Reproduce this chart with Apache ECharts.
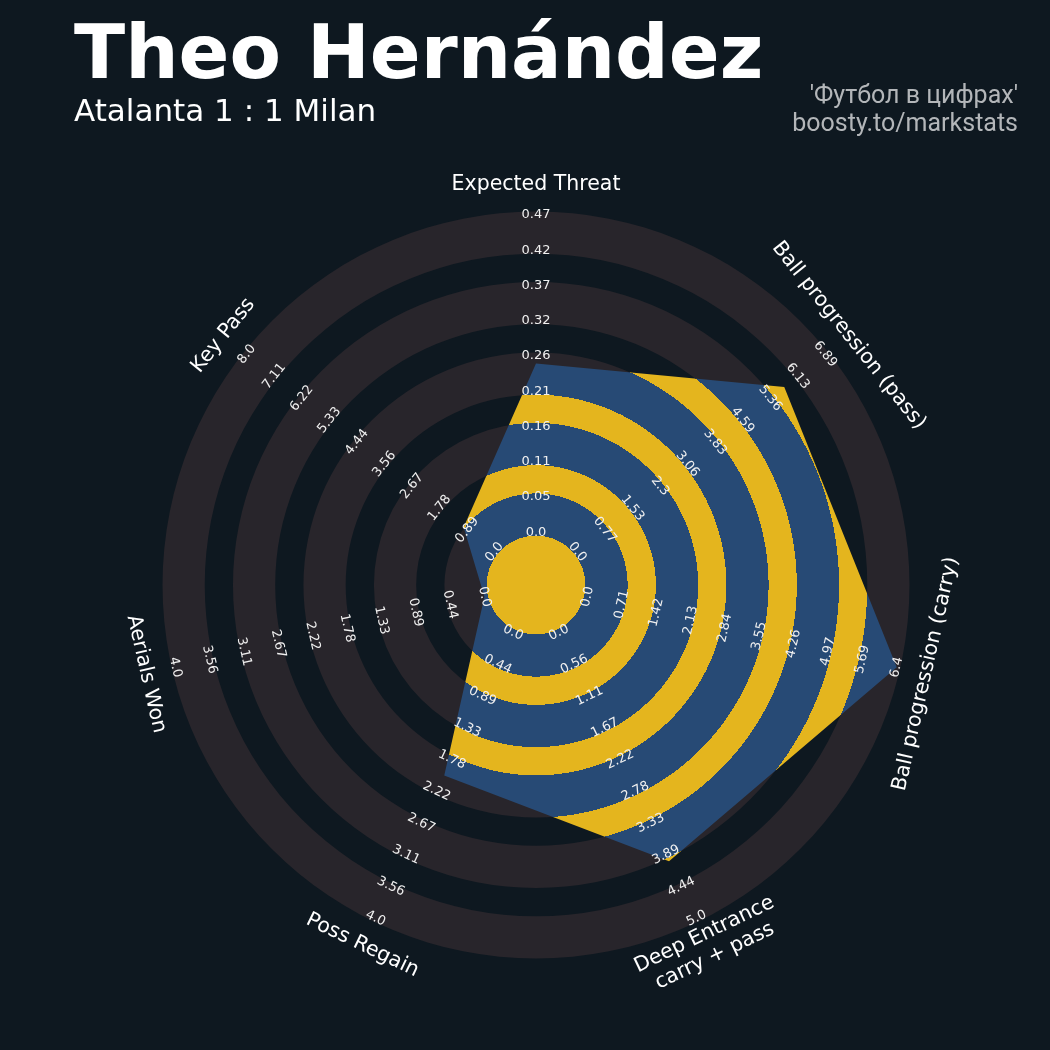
<!DOCTYPE html>
<html><head><meta charset="utf-8">
<script src="https://cdn.jsdelivr.net/npm/echarts@6/dist/echarts.min.js"></script>
<style>html,body{margin:0;padding:0;background:#0e1820;}#c{width:1050px;height:1050px;}</style>
</head><body><div id="c"></div>
<script>
// ---- data ----
const params = ['Expected Threat', 'Ball progression (pass)', 'Ball progression (carry)',
  'Deep Entrance\ncarry + pass', 'Poss Regain', 'Aerials Won', 'Key Pass'];
const minRange = [0, 0, 0, 0, 0, 0, 0];
const maxRange = [0.47, 6.89, 6.4, 5.0, 4.0, 4.0, 8.0];
const values = [0.25, 5.75, 6.4, 4.0, 2.0, 0, 1.0];
const tickXT = ['0.0', '0.05', '0.11', '0.16', '0.21', '0.26', '0.32', '0.37', '0.42', '0.47'];
const tickPass = ['0.0', '0.77', '1.53', '2.3', '3.06', '3.83', '4.59', '5.36', '6.13', '6.89'];
const tickCarry = ['0.0', '0.71', '1.42', '2.13', '2.84', '3.55', '4.26', '4.97', '5.69', '6.4'];
const tickDeep = ['0.0', '0.56', '1.11', '1.67', '2.22', '2.78', '3.33', '3.89', '4.44', '5.0'];
const tickRegain = ['0.0', '0.44', '0.89', '1.33', '1.78', '2.22', '2.67', '3.11', '3.56', '4.0'];
const tickAerial = ['0.0', '0.44', '0.89', '1.33', '1.78', '2.22', '2.67', '3.11', '3.56', '4.0'];
const tickKey = ['0.0', '0.89', '1.78', '2.67', '3.56', '4.44', '5.33', '6.22', '7.11', '8.0'];
const tickLabels = [tickXT, tickPass, tickCarry, tickDeep, tickRegain, tickAerial, tickKey];

// ---- geometry (radius in ring units) ----
const CENTER_R = 1.5, NUM_RINGS = 9, OUTER_R = CENTER_R + NUM_RINGS, LABEL_R = 11.35;
const EDGE = 3.5; // ring edge line half-width in px
const N = params.length;
const angleOf = i => i * 360 / N;
const BG = '#0e1820', RING = '#28252b', BLUE = '#274a75', YELLOW = '#e4b51e';

function textRot(i) {
  let rot = (90 - angleOf(i)) - 90;
  while (rot <= -90) rot += 180;
  while (rot > 90) rot -= 180;
  return rot * Math.PI / 180;
}
function ppu(api) {
  const c = api.coord([0, 0]), p = api.coord([1, 0]);
  return { c, u: Math.hypot(p[0] - c[0], p[1] - c[1]) };
}

const ringData = [];
for (let k = 1; k <= NUM_RINGS; k += 2) ringData.push([k]);

const polyData = values.map((v, i) => [CENTER_R + NUM_RINGS * (v - minRange[i]) / (maxRange[i] - minRange[i]), angleOf(i)]);

const tickData = [];
tickLabels.forEach((arr, i) => arr.forEach((t, j) => tickData.push([CENTER_R + j, angleOf(i), i, j])));
const paramData = params.map((p, i) => [LABEL_R, angleOf(i), i]);

const chart = echarts.init(document.getElementById('c'), null, { renderer: 'canvas' });
chart.setOption({
  backgroundColor: BG,
  animation: false,
  polar: { center: [536, 585], radius: 370 },
  radiusAxis: { type: 'value', min: 0, max: OUTER_R, show: false },
  angleAxis: { type: 'value', min: 0, max: 360, startAngle: 90, clockwise: true, show: false },
  graphic: [
    { type: 'text', x: 74, y: 59, style: { text: 'Theo Hernández', fill: '#ffffff', fontSize: 75, fontWeight: 'bold', fontFamily: 'DejaVu Sans', verticalAlign: 'middle' } },
    { type: 'text', x: 74, y: 113, style: { text: 'Atalanta 1 : 1 Milan', fill: '#ffffff', fontSize: 31, fontFamily: 'DejaVu Sans', verticalAlign: 'middle' } },
    { type: 'text', x: 1018, y: 96.5, style: { text: "'Футбол в цифрах'", fill: '#b3b6b9', fontSize: 25, fontFamily: 'Roboto', align: 'right', verticalAlign: 'middle' } },
    { type: 'text', x: 1018, y: 124.5, style: { text: 'boosty.to/markstats', fill: '#b3b6b9', fontSize: 25, fontFamily: 'Roboto', align: 'right', verticalAlign: 'middle' } }
  ],
  series: [
    {
      type: 'custom', coordinateSystem: 'polar', silent: true, data: ringData,
      renderItem: function (p, api) {
        const g = ppu(api), k = api.value(0);
        return { type: 'ring', shape: { cx: g.c[0], cy: g.c[1], r0: (CENTER_R + k - 1) * g.u - EDGE, r: (CENTER_R + k) * g.u + EDGE }, style: { fill: RING } };
      }
    },
    {
      type: 'custom', coordinateSystem: 'polar', silent: true, data: polyData,
      renderItem: function (p, api) {
        if (p.dataIndex !== 0) return null;
        const g = ppu(api);
        const pts = polyData.map(d => api.coord(d));
        const G = (OUTER_R + 0.5) * g.u;
        const stops = [{ offset: 0, color: YELLOW }];
        let prev = YELLOW;
        for (let k = 1; k <= NUM_RINGS; k++) {
          const next = k % 2 ? BLUE : YELLOW;
          const b = (CENTER_R + k - 1) * g.u + (k % 2 ? -EDGE : EDGE);
          stops.push({ offset: b / G, color: prev }, { offset: b / G, color: next });
          prev = next;
        }
        stops.push({ offset: 1, color: prev });
        return {
          type: 'polygon', shape: { points: pts },
          style: { fill: new echarts.graphic.RadialGradient(g.c[0], g.c[1], G, stops, true) }
        };
      }
    },
    {
      type: 'custom', coordinateSystem: 'polar', silent: true, data: tickData,
      renderItem: function (p, api) {
        const d = tickData[p.dataIndex];
        const pt = api.coord([d[0], d[1]]);
        return { type: 'text', x: pt[0], y: pt[1], rotation: textRot(d[2]),
          style: { text: tickLabels[d[2]][d[3]], fill: '#f0f0f0', fontSize: 13, fontFamily: 'DejaVu Sans', align: 'center', verticalAlign: 'middle' } };
      }
    },
    {
      type: 'custom', coordinateSystem: 'polar', silent: true, data: paramData,
      renderItem: function (p, api) {
        const d = paramData[p.dataIndex];
        const pt = api.coord([d[0], d[1]]);
        return { type: 'text', x: pt[0], y: pt[1], rotation: textRot(d[2]),
          style: { text: params[d[2]], fill: '#ffffff', fontSize: 20.5, fontFamily: 'DejaVu Sans', align: 'center', verticalAlign: 'middle', lineHeight: 24 } };
      }
    }
  ]
});
</script></body></html>
